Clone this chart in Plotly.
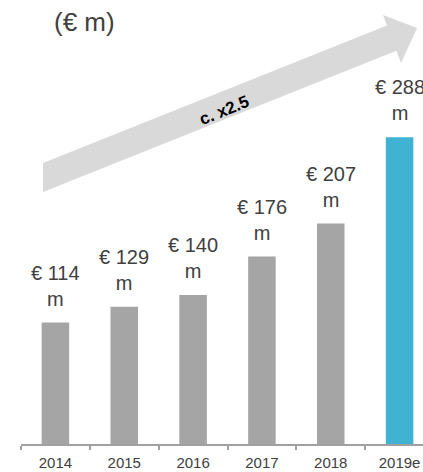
import plotly.graph_objects as go

years = ["2014", "2015", "2016", "2017", "2018", "2019e"]
values = [114, 129, 140, 176, 207, 288]
labels = ["€ 114<br>m", "€ 129<br>m", "€ 140<br>m", "€ 176<br>m", "€ 207<br>m", "€ 288<br>m"]
bar_colors = ["#A5A5A5"] * 5 + ["#40B3D2"]
title_text = "(€ m)"
arrow_text = "c. x2.5"

W, H = 423, 472
ML, MR, MT, MB = 21, 0, 0, 28
PW, PH = W - ML - MR, H - MT - MB

def px(x, y):
    return (x - ML) / PW, (H - MB - y) / PH

fig = go.Figure()
fig.add_trace(go.Bar(
    x=years, y=values, marker=dict(color=bar_colors, line=dict(width=0)),
    width=0.4, hoverinfo="skip", cliponaxis=False,
))

font_family = "Liberation Sans, Arial, sans-serif"
annotations = []
for i, (v, lab) in enumerate(zip(values, labels)):
    annotations.append(dict(
        x=i, y=v, text=lab, showarrow=False, xanchor="center", yanchor="bottom",
        yshift=11, font=dict(family=font_family, size=20, color="#404040"),
    ))

# arrow (decoration) in pixel -> paper coords
pts = [(43, 163), (387, 25.5), (383, 15), (417, 28), (401, 63), (396.4, 50.7), (43, 192)]
path = "M " + " L ".join(f"{px(a, b)[0]:.4f},{px(a, b)[1]:.4f}" for a, b in pts) + " Z"
shapes = [dict(type="path", xref="paper", yref="paper", path=path,
               fillcolor="#D9D9D9", line=dict(width=0), layer="below")]

ax, ay = px(224, 110)
annotations.append(dict(x=ax, y=ay, xref="paper", yref="paper", text=f"<b>{arrow_text}</b>",
                        showarrow=False, textangle=-22, xanchor="center", yanchor="middle",
                        font=dict(family=font_family, size=17, color="#000000")))
tx, ty = px(52, 22.5)
annotations.append(dict(x=tx, y=ty, xref="paper", yref="paper", text=title_text,
                        showarrow=False, xanchor="left", yanchor="middle",
                        font=dict(family=font_family, size=26, color="#404040")))

fig.update_layout(
    width=W, height=H, margin=dict(l=ML, r=MR, t=MT, b=MB, pad=0),
    paper_bgcolor="white", plot_bgcolor="white", showlegend=False,
    annotations=annotations, shapes=shapes,
    xaxis=dict(type="category", range=[-0.5, 5.34], showgrid=False, zeroline=False,
               showline=True, linecolor="#A0A0A0", linewidth=1.5,
               ticks="outside", tickson="boundaries", ticklen=4, tickcolor="#A0A0A0",
               tickwidth=1.5, ticklabelstandoff=4,
               tickfont=dict(family=font_family, size=15, color="#404040")),
    yaxis=dict(range=[0, 417], visible=False, showgrid=False, zeroline=False),
)

fig.write_html(
    "out.html",
    config={"displayModeBar": False},
    post_script="document.body.style.margin='0';document.body.style.overflow='hidden';",
)
